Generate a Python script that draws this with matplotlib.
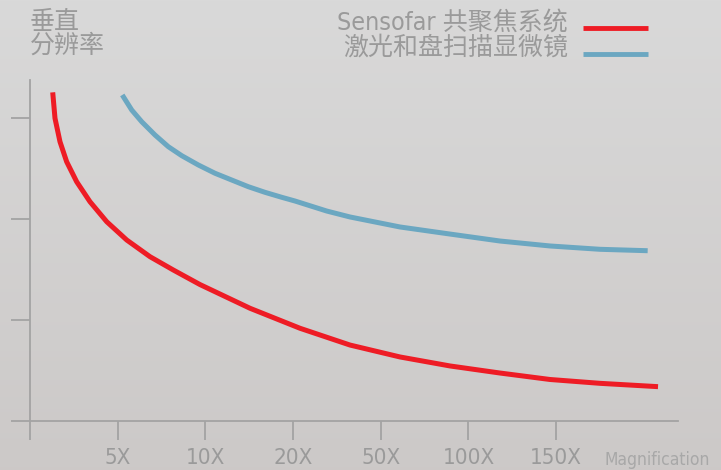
import numpy as np
import matplotlib
matplotlib.use("Agg")
import matplotlib.pyplot as plt
from matplotlib.lines import Line2D

# -----------------------------
# DATI
# -----------------------------
tick_pos = [0, 1, 2, 3, 4, 5, 6]
tick_labels = ["", "5X", "10X", "20X", "50X", "100X", "150X"]

red_x = [0.259, 0.285, 0.342, 0.418, 0.532, 0.684, 0.875, 1.103, 1.368, 1.634, 1.938,
         2.509, 3.079, 3.649, 4.219, 4.789, 5.359, 5.929, 6.499, 7.161]
red_y = [3.254, 2.997, 2.765, 2.567, 2.369, 2.171, 1.973, 1.792, 1.627, 1.495, 1.351,
         1.116, 0.918, 0.752, 0.634, 0.545, 0.475, 0.411, 0.373, 0.340]

blue_x = [1.052, 1.160, 1.274, 1.425, 1.577, 1.730, 1.919, 2.109, 2.300, 2.489, 2.680,
          2.870, 3.022, 3.383, 3.649, 4.219, 4.789, 5.359, 5.929, 6.499, 7.043]
blue_y = [3.228, 3.079, 2.963, 2.832, 2.716, 2.627, 2.535, 2.453, 2.386, 2.320, 2.264,
          2.215, 2.178, 2.079, 2.020, 1.921, 1.851, 1.782, 1.733, 1.700, 1.686]

serie_nomi = ["Sensofar 共聚焦系统", "激光和盘扫描显微镜"]
y_titolo = "垂直\n分辨率"
x_titolo = "Magnification"

# -----------------------------
# STILE
# -----------------------------
FONT = ["DejaVu Sans", "Noto Sans CJK SC"]
plt.rcParams["font.family"] = FONT
plt.rcParams["font.stretch"] = "condensed"
plt.rcParams["font.weight"] = 340
GRIGIO = "#a3a3a3"
TESTO = "#9a9a9a"
ROSSO = "#ee1c25"
BLU = "#6ba7c1"

W, H = 721, 470
fig = plt.figure(figsize=(W / 100, H / 100), dpi=100)

# sfondo sfumato
bg = fig.add_axes([0, 0, 1, 1])
grad = np.linspace(0, 1, 256).reshape(-1, 1)
top = np.array([0.851, 0.851, 0.851])
bot = np.array([0.800, 0.788, 0.784])
img = top + (bot - top) * grad[..., None]
bg.imshow(img, aspect="auto", extent=[0, 1, 0, 1])
bg.axis("off")

# assi: x=0 a px 30, y=0 a px 421
x0, y0 = 30, 421
sx, sy = 87.7, 101.0
ax = fig.add_axes([x0 / W, (H - y0) / H, (678 - x0) / W, (y0 - 80) / H])
ax.set_facecolor("none")
ax.set_xlim(0, (678 - x0) / sx)
ax.set_ylim(0, (y0 - 80) / sy)

ax.plot(red_x, red_y, color=ROSSO, lw=3.6, solid_capstyle="butt", solid_joinstyle="round")
ax.plot(blue_x, blue_y, color=BLU, lw=3.6, solid_capstyle="butt", solid_joinstyle="round")

for s in ["top", "right"]:
    ax.spines[s].set_visible(False)
for s in ["left", "bottom"]:
    ax.spines[s].set_color(GRIGIO)
    ax.spines[s].set_linewidth(1.3)

ax.set_xticks(tick_pos)
ax.set_xticklabels(tick_labels)
ax.set_yticks([0, 1, 2, 3])
ax.set_yticklabels([])
ax.tick_params(axis="x", direction="out", length=13.5, width=1.3, color=GRIGIO,
               labelcolor=TESTO, labelsize=16, pad=6)
ax.tick_params(axis="y", direction="out", length=13.5, width=1.3, color=GRIGIO)

# etichetta asse x a destra
fig.text(657 / W, (H - 460) / H, x_titolo, ha="center", va="center",
         color="#a8a8a8", fontsize=12.5)

# titolo asse y
fig.text(30 / W, (H - 10) / H, y_titolo, ha="left", va="top", color=TESTO,
         fontsize=18, linespacing=1.0)

# legenda (testo a destra allineato + segmento colorato)
for nome, col, yl, yt in [(serie_nomi[0], ROSSO, 27.5, 23), (serie_nomi[1], BLU, 54, 48)]:
    fig.text(568 / W, (H - yt) / H, nome, ha="right", va="center", color=TESTO, fontsize=18)
    fig.add_artist(Line2D([583 / W, 648 / W], [(H - yl) / H] * 2, color=col, lw=3.5,
                          transform=fig.transFigure, solid_capstyle="butt"))

fig.savefig("out.png", dpi=100)
